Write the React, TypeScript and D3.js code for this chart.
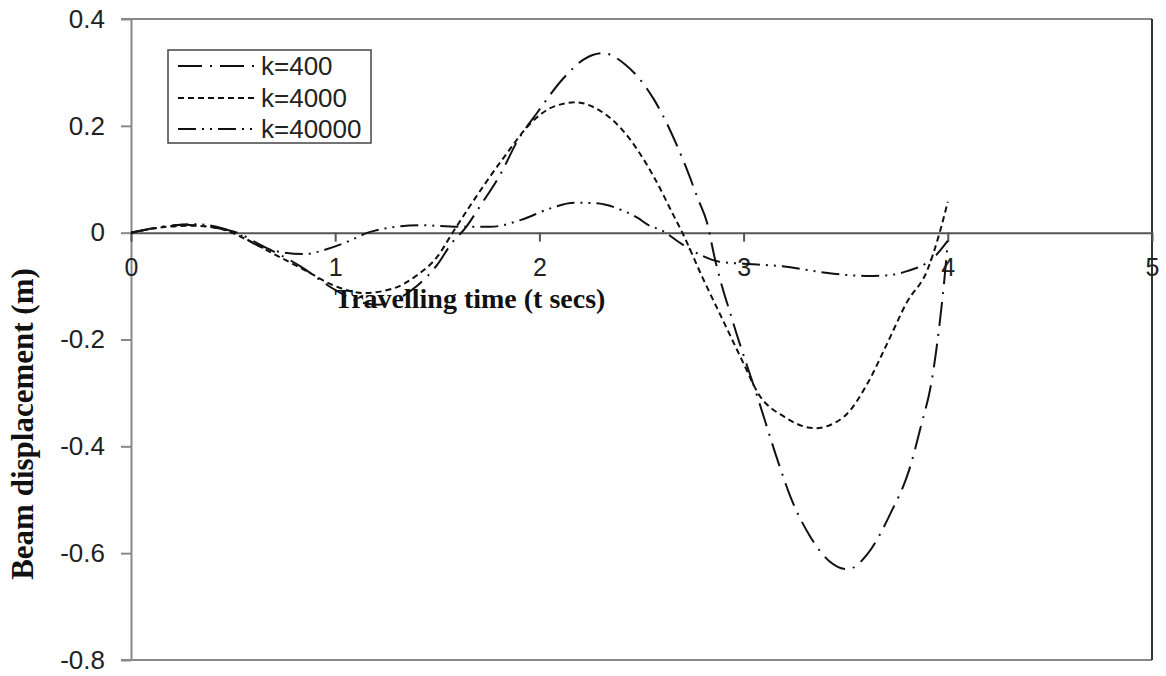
import React, { useEffect, useRef } from "react";
import * as d3 from "d3";

// values (t in secs, displacement in m)
const t400 = [0, 0.1, 0.25, 0.4, 0.52, 0.62, 0.83, 0.99, 1.1, 1.21, 1.3, 1.4, 1.5, 1.57, 1.64, 1.71, 1.81, 1.89, 1.99, 2.12, 2.22, 2.31, 2.42, 2.56, 2.71, 2.78, 2.82, 2.86, 2.95, 3.07, 3.17, 3.23, 3.32, 3.42, 3.51, 3.61, 3.72, 3.81, 3.87, 3.92, 3.96, 3.99, 4.0];
const k400 = [0, 0.008, 0.015, 0.01, 0, -0.02, -0.063, -0.105, -0.127, -0.135, -0.125, -0.1, -0.06, -0.02, 0.01, 0.05, 0.11, 0.17, 0.225, 0.29, 0.325, 0.336, 0.315, 0.25, 0.13, 0.06, 0.02, -0.05, -0.17, -0.31, -0.43, -0.495, -0.565, -0.615, -0.63, -0.6, -0.525, -0.445, -0.36, -0.28, -0.17, -0.06, -0.015];

const t4000 = [0, 0.15, 0.3, 0.45, 0.55, 0.7, 0.85, 1.0, 1.14, 1.28, 1.4, 1.5, 1.575, 1.66, 1.83, 1.96, 2.07, 2.18, 2.28, 2.4, 2.56, 2.66, 2.7, 2.8, 2.9, 3.0, 3.07, 3.2, 3.35, 3.49, 3.61, 3.7, 3.8, 3.9, 3.96, 4.0];
const k4000 = [0, 0.01, 0.013, 0.006, -0.01, -0.04, -0.07, -0.1, -0.113, -0.105, -0.08, -0.045, 0, 0.05, 0.143, 0.206, 0.236, 0.244, 0.232, 0.195, 0.105, 0.03, 0, -0.085, -0.165, -0.245, -0.3, -0.345, -0.366, -0.345, -0.28, -0.21, -0.13, -0.07, 0, 0.058];

const t40000 = [0, 0.15, 0.3, 0.45, 0.55, 0.6, 0.73, 0.85, 0.95, 1.06, 1.16, 1.3, 1.42, 1.6, 1.76, 1.91, 2.05, 2.17, 2.28, 2.41, 2.48, 2.53, 2.6, 2.7, 2.78, 2.89, 3.0, 3.19, 3.44, 3.6, 3.7, 3.8, 3.93, 4.0];
const k40000 = [0, 0.01, 0.016, 0.008, -0.008, -0.02, -0.036, -0.04, -0.032, -0.017, 0, 0.011, 0.014, 0.011, 0.011, 0.024, 0.045, 0.056, 0.055, 0.041, 0.028, 0.015, 0.004, -0.022, -0.04, -0.055, -0.058, -0.063, -0.077, -0.081, -0.08, -0.072, -0.047, -0.015];

const seriesNames = ["k=400", "k=4000", "k=40000"];
const xTicks = [0, 1, 2, 3, 4, 5];
const yTicks = [-0.8, -0.6, -0.4, -0.2, 0, 0.2, 0.4];

const App = () => {
  const svgRef = useRef<SVGSVGElement>(null);

  useEffect(() => {
    const svg = d3.select(svgRef.current);
    svg.selectAll("*").remove();

    const width = 1166;
    const height = 676;
    const margin = { top: 19, right: 14, bottom: 16, left: 131 };
    const sans = "'Liberation Sans', Arial, sans-serif";
    const serif = "'Liberation Serif', 'Times New Roman', serif";

    const x = d3.scaleLinear().domain([0, 5]).range([margin.left, width - margin.right]);
    const y = d3.scaleLinear().domain([-0.8, 0.4]).range([height - margin.bottom, margin.top]);

    // plot frame
    svg.append("line")
      .attr("x1", x(0) - 10).attr("x2", x(5))
      .attr("y1", y(0.4)).attr("y2", y(0.4))
      .attr("stroke", "#888").attr("stroke-width", 2);
    svg.append("line")
      .attr("x1", x(0) - 10).attr("x2", x(5))
      .attr("y1", y(-0.8)).attr("y2", y(-0.8))
      .attr("stroke", "#888").attr("stroke-width", 2);
    svg.append("line")
      .attr("x1", x(5)).attr("x2", x(5))
      .attr("y1", y(0.4)).attr("y2", y(-0.8))
      .attr("stroke", "#333").attr("stroke-width", 2);

    // y axis (plain hyphen for negatives, like the original)
    const yAxis = d3.axisLeft(y).tickValues(yTicks).tickSize(10).tickSizeOuter(0)
      .tickFormat((d) => (d === 0 ? "0" : (d as number).toFixed(1)));
    const gy = svg.append("g").attr("transform", `translate(${x(0)},0)`).call(yAxis);
    gy.select(".domain").attr("stroke", "#888").attr("stroke-width", 2);
    gy.selectAll(".tick line").attr("stroke", "#888").attr("stroke-width", 2);
    gy.selectAll(".tick text")
      .attr("x", -26)
      .attr("fill", "#222")
      .style("font-family", sans)
      .style("font-size", "26px");

    // x axis at y = 0
    const xAxis = d3.axisBottom(x).tickValues(xTicks).tickSize(9).tickSizeOuter(0)
      .tickFormat(d3.format("d"));
    const gx = svg.append("g").attr("transform", `translate(0,${y(0)})`).call(xAxis);
    gx.select(".domain").attr("stroke", "#555").attr("stroke-width", 2);
    gx.selectAll(".tick line").attr("stroke", "#555").attr("stroke-width", 2);
    gx.selectAll(".tick text")
      .attr("y", 26)
      .attr("fill", "#222")
      .style("font-family", sans)
      .style("font-size", "25px");

    // axis titles
    svg.append("text")
      .attr("x", 470).attr("y", 308)
      .attr("text-anchor", "middle")
      .style("font-family", serif).style("font-weight", "bold").style("font-size", "28px")
      .attr("fill", "#111")
      .text("Travelling time (t secs)");
    svg.append("text")
      .attr("transform", `translate(33,424) rotate(-90)`)
      .attr("text-anchor", "middle")
      .style("font-family", serif).style("font-weight", "bold").style("font-size", "31px")
      .attr("fill", "#111")
      .text("Beam displacement (m)");

    // curves
    const line = d3.line<[number, number]>()
      .x((d) => x(d[0]))
      .y((d) => y(d[1]))
      .curve(d3.curveMonotoneX);

    const dashes = ["24,8,2,8", "6,4", "18,6,2,6,2,6"];
    const series = [
      d3.zip(t400, k400),
      d3.zip(t4000, k4000),
      d3.zip(t40000, k40000),
    ];

    series.forEach((pts, i) => {
      svg.append("path")
        .datum(pts as [number, number][])
        .attr("fill", "none")
        .attr("stroke", "#111")
        .attr("stroke-width", 2)
        .attr("stroke-dasharray", dashes[i])
        .attr("d", line);
    });

    // legend
    const lg = svg.append("g");
    lg.append("rect")
      .attr("x", 168).attr("y", 50).attr("width", 203).attr("height", 93)
      .attr("fill", "white").attr("stroke", "#444").attr("stroke-width", 1.5);
    const rowY = [66, 98, 129];
    seriesNames.forEach((name, i) => {
      lg.append("line")
        .attr("x1", 178).attr("x2", 256)
        .attr("y1", rowY[i]).attr("y2", rowY[i])
        .attr("stroke", "#111").attr("stroke-width", 2)
        .attr("stroke-dasharray", dashes[i]);
      lg.append("text")
        .attr("x", 261).attr("y", rowY[i])
        .attr("dy", "0.36em")
        .attr("fill", "#222")
        .style("font-family", sans).style("font-size", "26px")
        .text(name);
    });
  }, []);

  return (
    <svg
      ref={svgRef}
      width="1166"
      height="676"
      style={{ position: "absolute", left: 0, top: 0, background: "white" }}
    ></svg>
  );
};

export default App;
